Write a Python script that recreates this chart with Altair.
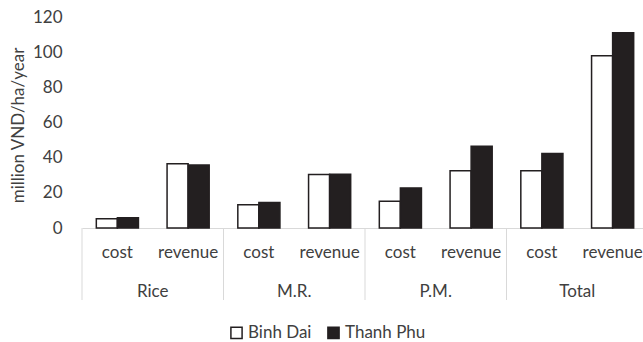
import altair as alt
import pandas as pd

# Cost and revenue per farming system, million VND per ha per year
groups = ["Rice", "M.R.", "P.M.", "Total"]
items = ["cost", "revenue"]
series = ["Binh Dai", "Thanh Phu"]
binh_dai = [5.3, 36.6, 13.2, 30.4, 15.2, 32.5, 32.5, 98.0]
thanh_phu = [5.8, 35.9, 14.5, 30.6, 22.8, 46.5, 42.3, 111.0]
y_ticks = [0, 20, 40, 60, 80, 100, 120]

keys = [f"{g} {i}" for g in groups for i in items]

rows = []
for k, (g, i) in enumerate([(g, i) for g in groups for i in items]):
    rows.append({"key": keys[k], "group": g, "item": i, "series": series[0], "value": binh_dai[k]})
    rows.append({"key": keys[k], "group": g, "item": i, "series": series[1], "value": thanh_phu[k]})
bars_df = pd.DataFrame(rows)
labels_df = pd.DataFrame({"key": keys, "item": [i for g in groups for i in items]})
groups_df = pd.DataFrame({"key": [f"{g} cost" for g in groups], "group": groups})

FONT = "Lato"
TEXT = "#404040"
LINE = "#d9d9d9"
INK = "#231f20"

x_scale = alt.Scale(domain=keys, range=[0, 566], paddingInner=0, paddingOuter=0)
y_scale = alt.Scale(domain=[0, 120], nice=False)

bars = alt.Chart(bars_df).mark_bar(stroke=INK, strokeWidth=1.5).encode(
    x=alt.X("key:N", scale=x_scale,
            axis=alt.Axis(labels=False, ticks=False, title=None, domainColor=LINE, domainWidth=1)),
    xOffset=alt.XOffset("series:N", scale=alt.Scale(domain=series, paddingInner=0, paddingOuter=0.68)),
    y=alt.Y("value:Q", scale=y_scale,
            axis=alt.Axis(values=y_ticks, grid=False, domain=False, ticks=False, tickSize=0,
                          labelPadding=20, labelFont=FONT, labelFontSize=17, labelColor=TEXT,
                          title="million VND/ha/year", titleFont=FONT, titleFontSize=17,
                          titleFontWeight="normal", titleColor=TEXT, titleAngle=270,
                          titleAlign="center", titleBaseline="alphabetic",
                          titleX=-59, titleY=108)),
    fill=alt.Fill("series:N", scale=alt.Scale(domain=series, range=["#ffffff", INK]),
                  legend=alt.Legend(title=None, orient="none", direction="horizontal",
                                    legendX=146, legendY=307, symbolType="square",
                                    symbolSize=125, symbolStrokeColor=INK, symbolStrokeWidth=1.5,
                                    labelFont=FONT, labelFontSize=17, labelColor=TEXT,
                                    labelOffset=3, columnPadding=12)),
)

sub_labels = alt.Chart(labels_df).mark_text(
    font=FONT, fontSize=17, color=TEXT, baseline="alphabetic"
).encode(
    x=alt.X("key:N", scale=x_scale),
    y=alt.value(241),
    text="item:N",
)

separators = alt.Chart(groups_df).mark_rule(color=LINE, strokeWidth=1).encode(
    x=alt.X("key:N", scale=x_scale, bandPosition=0),
    y=alt.value(211),
    y2=alt.value(283),
)

group_labels = alt.Chart(groups_df).mark_text(
    font=FONT, fontSize=17, color=TEXT, baseline="alphabetic"
).encode(
    x=alt.X("key:N", scale=x_scale, bandPosition=1),
    y=alt.value(280),
    text="group:N",
)

chart = alt.layer(separators, bars, sub_labels, group_labels).properties(
    width=561,
    height=211,
    autosize=alt.AutoSizeParams(type="none"),
    padding={"left": 82, "top": 17, "right": 0, "bottom": 114},
).configure_view(stroke=None)

chart.save("out.html", embed_options={"renderer": "svg", "actions": False})
